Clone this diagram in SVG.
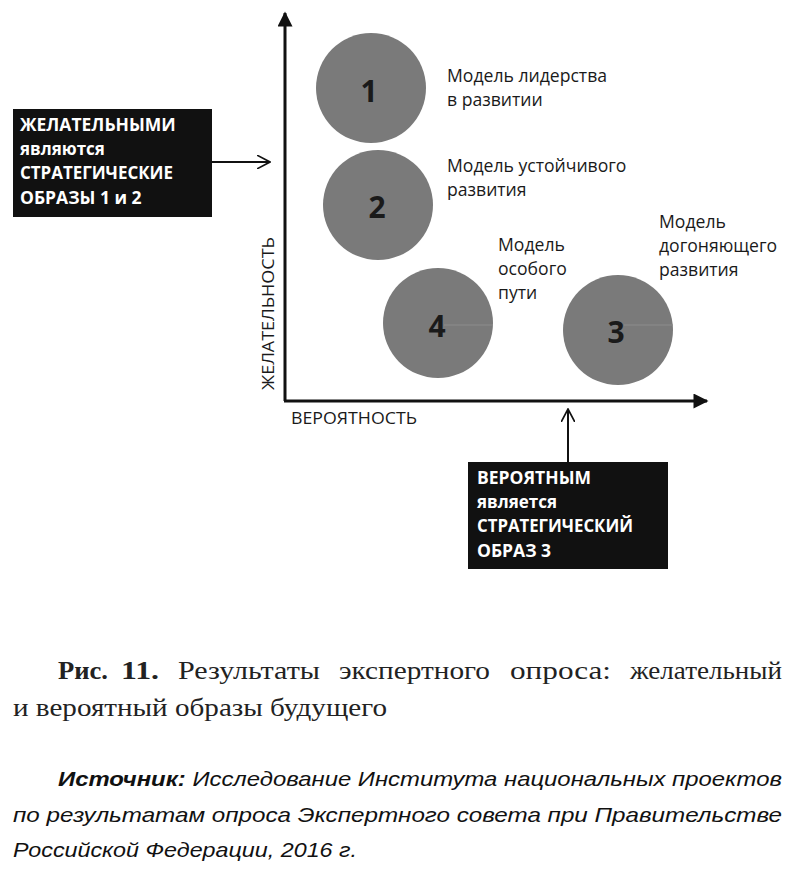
<svg xmlns="http://www.w3.org/2000/svg" width="800" height="873" viewBox="0 0 800 873">
<defs>
<style>
.circ{fill:#7a7a7a}
.num{font-family:"Open Sans","Liberation Sans",sans-serif;font-weight:bold;font-size:30px;fill:#1a1a1a;text-anchor:middle}
.lbl{font-family:"Open Sans","Liberation Sans",sans-serif;font-size:17.6px;fill:#1a1a1a}
.ax{font-family:"Open Sans","Liberation Sans",sans-serif;font-size:17px;fill:#1a1a1a}
.box{fill:#111}
.bt{font-family:"Open Sans","Liberation Sans",sans-serif;font-weight:bold;font-size:17.5px;fill:#fff}
.bs{font-family:"Open Sans","Liberation Sans",sans-serif;font-weight:bold;font-size:17px;fill:#fff}
.cap{font-family:"Liberation Serif",serif;font-size:26px;fill:#222}
.src{font-family:"Liberation Sans",sans-serif;font-style:italic;font-size:21px;fill:#111}
.axis{stroke:#111;stroke-width:3;fill:none}
.arr{stroke:#111;stroke-width:2;fill:none}
.seam{stroke:#8c8c8c;stroke-width:1}
</style>
<marker id="tri" viewBox="0 0 10 10" refX="9" refY="5" markerWidth="6.5" markerHeight="5" markerUnits="strokeWidth" orient="auto">
<path d="M0,0 L10,5 L0,10 Z" fill="#111"/>
</marker>
<marker id="chev" viewBox="0 0 10 10" refX="9.5" refY="5" markerWidth="7" markerHeight="7" markerUnits="strokeWidth" orient="auto">
<path d="M0,0 L9.5,5 L0,10" fill="none" stroke="#111" stroke-width="1.2"/>
</marker>
</defs>
<rect width="800" height="873" fill="#fff"/>
<g id="connectors">
<line class="axis" x1="285" y1="401" x2="285" y2="13" marker-end="url(#tri)"/>
<line class="axis" x1="284" y1="401" x2="707" y2="401" marker-end="url(#tri)"/>
<line class="arr" x1="212" y1="162" x2="270" y2="162" marker-end="url(#chev)"/>
<line class="arr" x1="568" y1="462" x2="568" y2="409" marker-end="url(#chev)"/>
</g>
<g id="axis-labels">
<text class="ax" x="291" y="424" textLength="126" lengthAdjust="spacingAndGlyphs">ВЕРОЯТНОСТЬ</text>
<text class="ax" transform="translate(274,390) rotate(-90)" textLength="153" lengthAdjust="spacingAndGlyphs">ЖЕЛАТЕЛЬНОСТЬ</text>
</g>
<g id="node1">
<circle class="circ" cx="371" cy="88" r="55"/>
<text class="num" x="369" y="102">1</text>
<text class="lbl" x="447" y="82">Модель лидерства</text>
<text class="lbl" x="447" y="106">в развитии</text>
</g>
<g id="node2">
<circle class="circ" cx="378" cy="205" r="55"/>
<text class="num" x="377" y="218">2</text>
<text class="lbl" x="447" y="172">Модель устойчивого</text>
<text class="lbl" x="447" y="196">развития</text>
</g>
<g id="node4">
<circle class="circ" cx="438" cy="323" r="55"/>
<line class="seam" x1="444" y1="325" x2="493" y2="325"/>
<text class="num" x="437" y="337">4</text>
<text class="lbl" x="498" y="251">Модель</text>
<text class="lbl" x="498" y="275">особого</text>
<text class="lbl" x="498" y="299">пути</text>
</g>
<g id="node3">
<circle class="circ" cx="618" cy="330" r="55"/>
<line class="seam" x1="624" y1="325" x2="673" y2="325"/>
<text class="num" x="616" y="343">3</text>
<text class="lbl" x="659" y="228">Модель</text>
<text class="lbl" x="659" y="252">догоняющего</text>
<text class="lbl" x="659" y="276">развития</text>
</g>
<g id="box-desirable">
<rect class="box" x="13" y="109" width="199" height="108"/>
<text class="bt" x="20" y="131">ЖЕЛАТЕЛЬНЫМИ</text>
<text class="bs" x="20" y="155">являются</text>
<text class="bt" x="20" y="179" textLength="153" lengthAdjust="spacingAndGlyphs">СТРАТЕГИЧЕСКИЕ</text>
<text class="bt" x="20" y="204">ОБРАЗЫ 1 и 2</text>
</g>
<g id="box-probable">
<rect class="box" x="468" y="462" width="200" height="107"/>
<text class="bt" x="477" y="484">ВЕРОЯТНЫМ</text>
<text class="bs" x="477" y="508">является</text>
<text class="bt" x="477" y="532" textLength="156" lengthAdjust="spacingAndGlyphs">СТРАТЕГИЧЕСКИЙ</text>
<text class="bt" x="477" y="557">ОБРАЗ 3</text>
</g>
<g id="caption">
<text class="cap" x="58" y="679" font-weight="bold" textLength="50" lengthAdjust="spacingAndGlyphs">Рис.</text>
<text class="cap" x="121" y="679" font-weight="bold" textLength="38" lengthAdjust="spacingAndGlyphs">11.</text>
<text class="cap" x="178" y="679" textLength="142" lengthAdjust="spacingAndGlyphs">Результаты</text>
<text class="cap" x="339" y="679" textLength="151" lengthAdjust="spacingAndGlyphs">экспертного</text>
<text class="cap" x="510" y="679" textLength="101" lengthAdjust="spacingAndGlyphs">опроса:</text>
<text class="cap" x="630" y="679" textLength="152" lengthAdjust="spacingAndGlyphs">желательный</text>
<text class="cap" x="13" y="716" textLength="374" lengthAdjust="spacingAndGlyphs">и вероятный образы будущего</text>
</g>
<g id="source">
<text class="src" x="58" y="786" textLength="724" lengthAdjust="spacingAndGlyphs"><tspan font-weight="bold">Источник:</tspan> Исследование Института национальных проектов</text>
<text class="src" x="13" y="822" textLength="769" lengthAdjust="spacingAndGlyphs">по результатам опроса Экспертного совета при Правительстве</text>
<text class="src" x="13" y="857" textLength="344" lengthAdjust="spacingAndGlyphs">Российской Федерации, 2016 г.</text>
</g>
</svg>
